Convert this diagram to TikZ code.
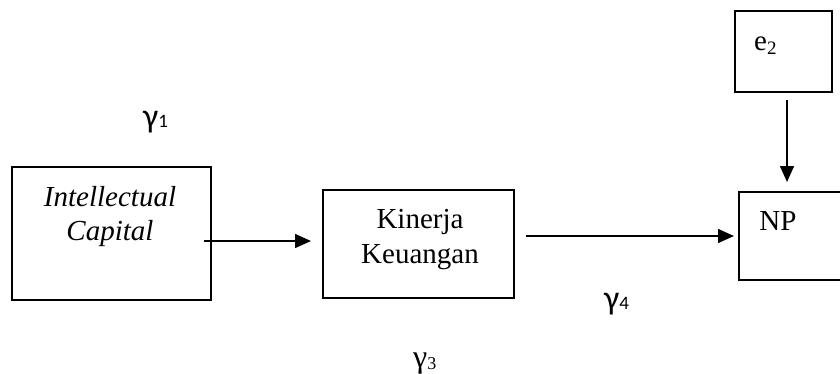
\documentclass[tikz,border=0pt]{standalone}
\usepackage{fontspec}
\setmainfont{Liberation Serif}
\newfontfamily\gfont{Carlito}
\usetikzlibrary{arrows.meta}
\begin{document}
\begin{tikzpicture}[x=1pt,y=-1pt,
  box/.style={draw,line width=1.8pt},
  conn/.style={line width=2.8pt,-{Triangle[length=16pt,width=13.5pt]}},
  txt/.style={inner sep=0pt,anchor=base,align=center,font=\fontsize{29}{34.5}\selectfont},
  glab/.style={inner sep=0pt,anchor=base west}]
\useasboundingbox (0,0) rectangle (840,373);
% boxes
\node[box,inner sep=0pt,minimum width=199pt,minimum height=133pt] (ic) at (111.5,233.5) {};
\node[box,inner sep=0pt,minimum width=191pt,minimum height=108pt] (kk) at (418.5,244) {};
\node[box,inner sep=0pt,minimum width=121pt,minimum height=88pt] (np) at (799.5,236) {};
\node[box,inner sep=0pt,minimum width=97pt,minimum height=81pt] (e2) at (783.5,51.5) {};
% texts
\node[txt] (ictext) at (110,240.5) {\itshape Intellectual\\\itshape Capital};
\node[txt] (kktext) at (420,263) {Kinerja\\Keuangan};
\node[txt] (nptext) at (778,230) {NP};
\node[txt,anchor=base west] (e2text) at (754,50) {e\raisebox{-4pt}{\fontsize{19}{19}\selectfont 2}};
% connectors
\coordinate (a1s) at ([shift={(-8,7.5)}]ic.east);
\coordinate (a1e) at ([shift={(-11,-3)}]kk.west);
\coordinate (a2s) at ([shift={(11,-8)}]kk.east);
\coordinate (a2e) at ([shift={(-4,0)}]np.west);
\coordinate (a3s) at ([shift={(3.5,7)}]e2.south);
\coordinate (a3e) at ([shift={(-12.5,-9)}]np.north);
\draw[conn] (a1s) -- (a1e);
\draw[conn] (a2s) -- (a2e |- a2s);
\draw[conn] (a3s) -- (a3s |- a3e);
% gamma labels
\node[glab] (g1) at (143,127) {\gfont\fontsize{34}{34}\selectfont γ\fontsize{19}{19}\selectfont 1};
\node[glab] (g4) at (604,309) {\gfont\fontsize{34}{34}\selectfont γ\fontsize{19}{19}\selectfont 4};
\node[glab] (g3) at (413,369) {\fontsize{32}{32}\selectfont\raisebox{2pt}{γ}\fontsize{18}{18}\selectfont 3};
\end{tikzpicture}
\end{document}
